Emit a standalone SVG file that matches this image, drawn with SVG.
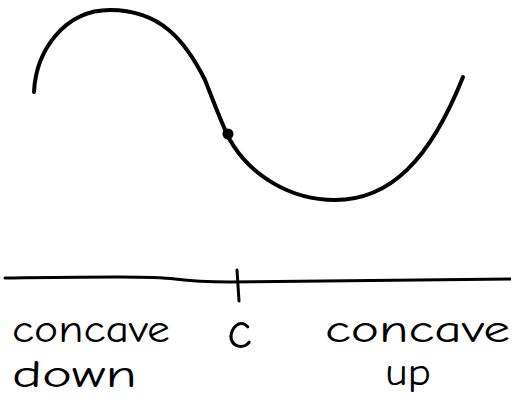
<svg xmlns="http://www.w3.org/2000/svg" width="511" height="406" viewBox="0 0 511 406">
<style>
.ln{fill:none;stroke:#000;stroke-width:4;stroke-linecap:round;stroke-linejoin:round}
.ax{fill:none;stroke:#000;stroke-width:3;stroke-linecap:round}
.t{font-family:"Comic Neue","DejaVu Sans","Liberation Sans",sans-serif;font-size:38px;fill:#000}
</style>
<rect width="511" height="406" fill="#fff"/>
<g id="curve">
<path class="ln" d="M34,92 C36,50 65,10 110,10 C160,10 185,40 205,80 C215,105 222,125 230,140 C250,175 290,200 335,200 C390,200 430,160 463,77"/>
<circle cx="228" cy="134" r="5.5" fill="#000"/>
</g>
<g id="axis">
<path class="ax" d="M5,278 C90,277 150,276 175,279 C190,281 200,282 230,282 L511,279"/>
<path class="ax" d="M237,270 L239,301"/>
</g>
<g id="labels">
<text class="t" x="12" y="342" textLength="158" lengthAdjust="spacingAndGlyphs">concave</text>
<text class="t" x="12" y="387" textLength="125" lengthAdjust="spacingAndGlyphs">down</text>
<text class="t" x="227" y="348" style="font-size:52px">c</text>
<text class="t" x="325" y="342" textLength="185" lengthAdjust="spacingAndGlyphs">concave</text>
<text class="t" x="385" y="385" textLength="46" lengthAdjust="spacingAndGlyphs">up</text>
</g>
</svg>
